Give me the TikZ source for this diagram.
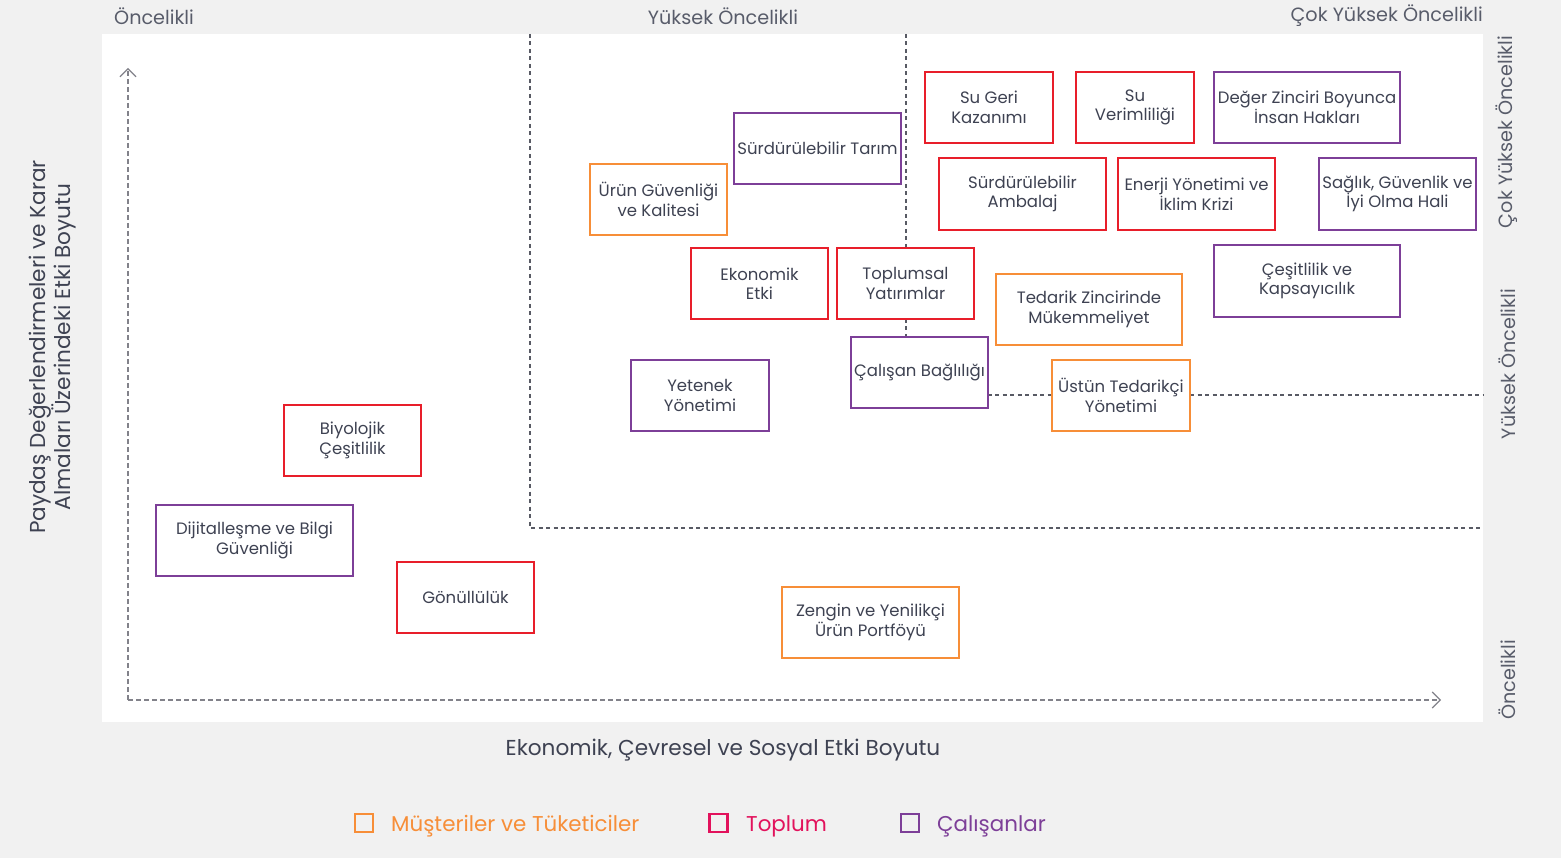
\documentclass[tikz,border=0pt]{standalone}
\usepackage{fontspec}
\setmainfont{Poppins}
\usepackage{xcolor}
\definecolor{bgrey}{RGB}{241,241,241}
\definecolor{ink}{RGB}{62,66,82}
\definecolor{label}{RGB}{88,92,106}
\definecolor{guide}{RGB}{88,90,100}
\definecolor{axis}{RGB}{130,130,138}
\definecolor{toplum}{RGB}{232,30,42}
\definecolor{toplumleg}{RGB}{226,18,92}
\definecolor{musteri}{RGB}{247,142,56}
\definecolor{calisan}{RGB}{125,63,152}
\usepackage{tikz}
\usetikzlibrary{arrows.meta, positioning}

\begin{document}
\begin{tikzpicture}[
        x=1pt, y=-1pt,
        topic/.style={rectangle, draw=#1, fill=white, line width=2.5pt, minimum width=137, minimum height=71, inner sep=0pt, align=center, text=ink, font={\fontsize{16.5}{19.5}\selectfont}},
        guideline/.style={guide, line width=1.2pt, dash pattern=on 4pt off 3.5pt},
        axisline/.style={axis, line width=1.1pt, dash pattern=on 5pt off 3pt, -{Straight Barb[length=8pt, width=16pt, line width=1.1pt]}},
        level/.style={text=label, inner sep=0pt, font={\fontsize{19.2}{22}\selectfont}},
        axislabel/.style={text=ink, inner sep=0pt, align=center, font={\fontsize{21.6}{25}\selectfont}},
        legbox/.style={draw=#1, line width=2.7pt, minimum size=18, inner sep=0pt},
        legtext/.style={text=#1, anchor=west, inner sep=0pt, font={\fontsize{21.4}{24}\selectfont}}
    ]
        \useasboundingbox (0,0) rectangle (1561,858);
        \fill[bgrey] (0,0) rectangle (1561,858);
        \fill[white] (102,34) rectangle (1483,722);

        % priority zones
        \draw[guideline] (530,34) -- (530,528) -- (1483,528);
        \draw[guideline] (906,34) -- (906,395) -- (1483,395);

        % axes
        \coordinate (origin) at (128,700);
        \coordinate (ytop) at (128,68);
        \coordinate (xend) at (1441,700);
        \draw[axisline] (origin) -- (ytop);
        \draw[axisline] (origin) -- (xend);

        % topics
        \node[topic=toplum, minimum width=128] (sugeri) at (989,107.5) {Su Geri\\Kazanımı};
        \node[topic=toplum, minimum width=118] (suverim) at (1135,107.5) {Su\\Verimliliği};
        \node[topic=calisan, minimum width=186] (insan) at (1307,107.5) {Değer Zinciri Boyunca\\İnsan Hakları};
        \node[topic=calisan, minimum width=167] (tarim) at (817.5,148.5) {Sürdürülebilir Tarım};
        \node[topic=musteri] (urun) at (658.5,199.5) {Ürün Güvenliği\\ve Kalitesi};
        \node[topic=toplum, minimum width=167, minimum height=72] (ambalaj) at (1022.5,194) {Sürdürülebilir\\Ambalaj};
        \node[topic=toplum, minimum width=157, minimum height=72] (enerji) at (1196.5,194) {Enerji Yönetimi ve\\İklim Krizi};
        \node[topic=calisan, minimum width=157, minimum height=72] (saglik) at (1397.5,194) {Sağlık, Güvenlik ve\\İyi Olma Hali};
        \node[topic=toplum] (ekonomik) at (759.5,283.5) {Ekonomik\\Etki};
        \node[topic=toplum] (toplumsal) at (905.5,283.5) {Toplumsal\\Yatırımlar};
        \node[topic=calisan, minimum width=186, minimum height=72] (cesitlilik) at (1307,281) {Çeşitlilik ve\\Kapsayıcılık};
        \node[topic=musteri, minimum width=186] (tedarik) at (1089,309.5) {Tedarik Zincirinde\\Mükemmeliyet};
        \node[topic=calisan] (bagli) at (919.5,372.5) {Çalışan Bağlılığı};
        \node[topic=musteri, minimum width=138] (ustun) at (1121,395.5) {Üstün Tedarikçi\\Yönetimi};
        \node[topic=calisan, minimum width=138] (yetenek) at (700,395.5) {Yetenek\\Yönetimi};
        \node[topic=toplum] (biyo) at (352.5,440.5) {Biyolojik\\Çeşitlilik};
        \node[topic=calisan, minimum width=197] (dijital) at (254.5,540.5) {Dijitalleşme ve Bilgi\\Güvenliği};
        \node[topic=toplum] (gonullu) at (465.5,597.5) {Gönüllülük};
        \node[topic=musteri, minimum width=177] (portfoy) at (870.5,622.5) {Zengin ve Yenilikçi\\Ürün Portföyü};

        % priority labels
        \node[level, anchor=west] (topone) at (114,16) {Öncelikli};
        \node[level] (toptwo) at (723,16) {Yüksek Öncelikli};
        \node[level, anchor=east] (topthree) at (1483,16) {Çok Yüksek Öncelikli};
        \node[level, rotate=90] (rightthree) at (1507,132) {Çok Yüksek Öncelikli};
        \node[level, rotate=90] (righttwo) at (1507,364) {Yüksek Öncelikli};
        \node[level, rotate=90, anchor=west] (rightone) at (1507,720) {Öncelikli};

        % axis titles
        \node[axislabel, rotate=90] (ylabel) at (53,347) {Paydaş Değerlendirmeleri ve Karar\\Almaları Üzerindeki Etki Boyutu};
        \node[axislabel] (xlabel) at (723,750) {Ekonomik, Çevresel ve Sosyal Etki Boyutu};

        % legend
        \node[legbox=musteri] (legm) at (364,823) {};
        \node[legtext=musteri] (legmt) at (391,826) {Müşteriler ve Tüketiciler};
        \node[legbox=toplumleg] (legt) at (718.5,823) {};
        \node[legtext=toplumleg] (legtt) at (746,826) {Toplum};
        \node[legbox=calisan] (legc) at (910,823) {};
        \node[legtext=calisan] (legct) at (937,826) {Çalışanlar};
    \end{tikzpicture}
\end{document}
